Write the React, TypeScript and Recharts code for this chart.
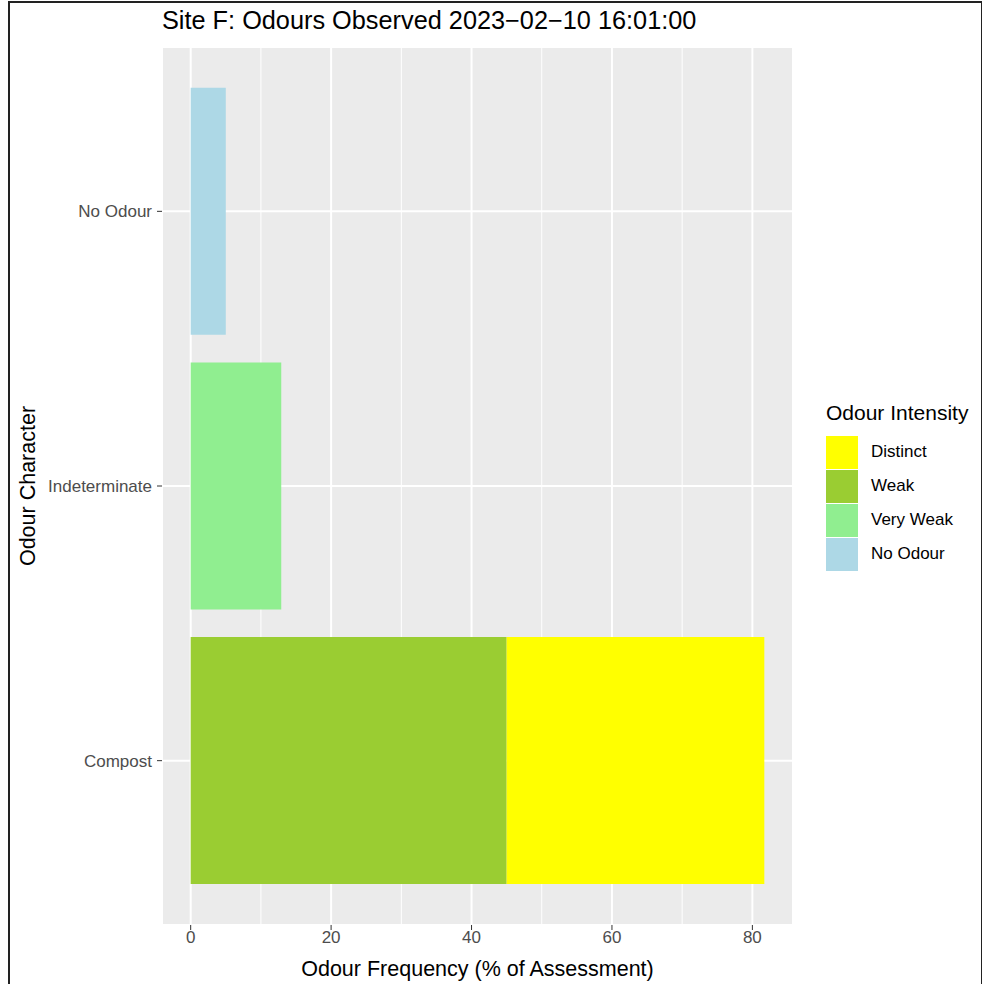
import React from "react";
import { BarChart, Bar, XAxis, YAxis, CartesianGrid, Label } from "recharts";

// categories top -> bottom as drawn
const characters = ["No Odour", "Indeterminate", "Compost"];
// % of assessment per intensity
const noOdour = [5, 0, 0];
const veryWeak = [0, 12.9, 0];
const weak = [0, 0, 45];
const distinct = [0, 0, 36.7];

const majorTicks = [0, 20, 40, 60, 80];
const minorTicks = [10, 30, 50, 70];

const legendItems = [
  { label: "Distinct", color: "#FFFF00" },
  { label: "Weak", color: "#9ACD32" },
  { label: "Very Weak", color: "#90EE90" },
  { label: "No Odour", color: "#ADD8E6" },
];

const data = characters.map((name, i) => ({
  name,
  noOdour: noOdour[i],
  veryWeak: veryWeak[i],
  weak: weak[i],
  distinct: distinct[i],
}));

const maxTotal = Math.max(...data.map((d) => d.noOdour + d.veryWeak + d.weak + d.distinct));
const domain = [-maxTotal * 0.05, maxTotal * 1.05];

const font = "'Liberation Sans', Arial, sans-serif";
const tickStyle = { fill: "#4D4D4D", fontSize: 17, fontFamily: font };

// minor vertical gridlines, mapped through the x scale (linear fallback on the plot offset)
const minorLines = ({ xAxis, offset }: any) => {
  if (xAxis && typeof xAxis.scale === "function") {
    return minorTicks.map((v) => xAxis.scale(v));
  }
  if (!offset) return [];
  return minorTicks.map((v) => offset.left + ((v - domain[0]) / (domain[1] - domain[0])) * offset.width);
};

export default function App() {
  return (
    <div style={{ position: "absolute", left: 0, top: 0, width: 982, height: 984, background: "#fff", fontFamily: font, overflow: "hidden" }}>
      <div style={{ position: "absolute", left: 8, top: 1, width: 975, height: 995, border: "2px solid #222", boxSizing: "border-box" }} />
      <div style={{ position: "absolute", left: 162, top: 6, fontSize: 25.3, color: "#000", whiteSpace: "nowrap" }}>
        Site F: Odours Observed 2023−02−10 16:01:00
      </div>
      <div style={{ position: "absolute", left: 0, top: 0 }}>
        <BarChart
          width={982}
          height={984}
          data={data}
          layout="vertical"
          margin={{ top: 47, right: 189, bottom: 0, left: 0 }}
          barCategoryGap="5%"
        >
          <CartesianGrid
            fill="#EBEBEB"
            stroke="#FFFFFF"
            strokeWidth={1}
            horizontal={false}
            verticalCoordinatesGenerator={minorLines}
          />
          <CartesianGrid stroke="#FFFFFF" strokeWidth={2} />
          <XAxis
            type="number"
            domain={domain}
            ticks={majorTicks}
            height={59}
            axisLine={false}
            tickSize={5}
            tickLine={{ stroke: "#333333" }}
            tick={tickStyle}
            tickMargin={1}
          >
            <Label
              value="Odour Frequency (% of Assessment)"
              position="insideBottom"
              offset={8}
              style={{ fill: "#000", fontSize: 21.5, fontFamily: font }}
            />
          </XAxis>
          <YAxis
            type="category"
            dataKey="name"
            width={162}
            padding={{ top: 27, bottom: 27 }}
            axisLine={false}
            tickSize={5}
            tickLine={{ stroke: "#333333" }}
            tick={tickStyle}
            tickMargin={5}
          >
            <Label
              value="Odour Character"
              angle={-90}
              position="insideLeft"
              offset={27}
              style={{ fill: "#000", fontSize: 21.5, fontFamily: font, textAnchor: "middle" }}
            />
          </YAxis>
          <Bar dataKey="noOdour" stackId="a" fill="#ADD8E6" isAnimationActive={false} />
          <Bar dataKey="veryWeak" stackId="a" fill="#90EE90" isAnimationActive={false} />
          <Bar dataKey="weak" stackId="a" fill="#9ACD32" isAnimationActive={false} />
          <Bar dataKey="distinct" stackId="a" fill="#FFFF00" isAnimationActive={false} />
        </BarChart>
      </div>
      <div style={{ position: "absolute", left: 826, top: 401 }}>
        <div style={{ fontSize: 21, color: "#000", marginBottom: 10, whiteSpace: "nowrap" }}>Odour Intensity</div>
        {legendItems.map((it) => (
          <div key={it.label} style={{ display: "flex", alignItems: "center", height: 34 }}>
            <div style={{ width: 32, height: 33, background: it.color }} />
            <div style={{ marginLeft: 13, fontSize: 17, color: "#000", whiteSpace: "nowrap" }}>{it.label}</div>
          </div>
        ))}
      </div>
    </div>
  );
}
